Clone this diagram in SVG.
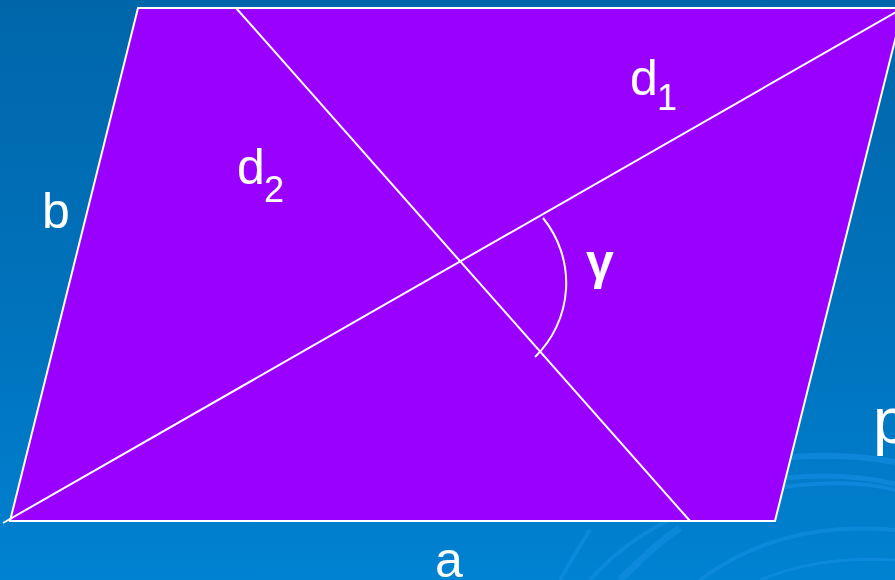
<svg xmlns="http://www.w3.org/2000/svg" width="895" height="580" viewBox="0 0 895 580">
  <defs>
    <linearGradient id="bg" x1="0" y1="0" x2="0" y2="1">
      <stop offset="0" stop-color="#0066AA"/>
      <stop offset="0.6" stop-color="#0074BE"/>
      <stop offset="1" stop-color="#0082D2"/>
    </linearGradient>
  </defs>
  <style>
    .swirl { fill: none; stroke: #1590E6; stroke-opacity: 0.55; }
    .edge { fill: #9900FF; stroke: #FFFFFF; stroke-width: 2; stroke-linejoin: miter; }
    .line { fill: none; stroke: #FFFFFF; stroke-width: 2; }
    .lbl { font-family: "Liberation Sans", Arial, sans-serif; fill: #FFFFFF; }
  </style>
  <rect x="0" y="0" width="895" height="580" fill="url(#bg)"/>
  <g id="background-swirls">
    <path class="swirl" stroke-width="6" d="M780,458 Q840,452 895,462"/>
    <path class="swirl" stroke-width="5" d="M785,478 Q845,472 895,484"/>
    <path class="swirl" stroke-width="4" d="M590,580 Q660,500 800,485 Q860,480 895,490"/>
    <path class="swirl" stroke-width="7" d="M620,580 Q660,540 680,528"/>
    <path class="swirl" stroke-width="4" d="M560,580 Q580,545 590,530"/>
    <path class="swirl" stroke-width="4" d="M700,580 Q780,520 895,530"/>
    <path class="swirl" stroke-width="3" d="M760,580 Q820,555 895,560"/>
  </g>
  <g id="parallelogram">
    <path class="edge" d="M10,521 L138,8 L903,8 L775,521 Z"/>
  </g>
  <g id="connectors">
    <line id="d1-line" class="line" x1="3" y1="523" x2="903" y2="8"/>
    <line id="d2-line" class="line" x1="236" y1="8" x2="690" y2="521"/>
    <path id="angle-arc" class="line" d="M543,218 A103,103 0 0 1 535,357"/>
  </g>
  <g id="label-d1">
    <text class="lbl" x="630" y="95" font-size="50">d</text>
    <text class="lbl" x="657" y="110" font-size="36">1</text>
  </g>
  <g id="label-d2">
    <text class="lbl" x="237" y="184" font-size="50">d</text>
    <text class="lbl" x="264" y="202" font-size="36">2</text>
  </g>
  <g id="label-b">
    <text class="lbl" x="42" y="228" font-size="50">b</text>
  </g>
  <g id="label-a">
    <text class="lbl" x="435" y="577" font-size="50">a</text>
  </g>
  <g id="label-gamma">
    <text class="lbl" x="586" y="279" font-size="50" font-weight="bold">γ</text>
  </g>
  <g id="label-p">
    <text class="lbl" x="873" y="443" font-size="64">p</text>
  </g>
</svg>
